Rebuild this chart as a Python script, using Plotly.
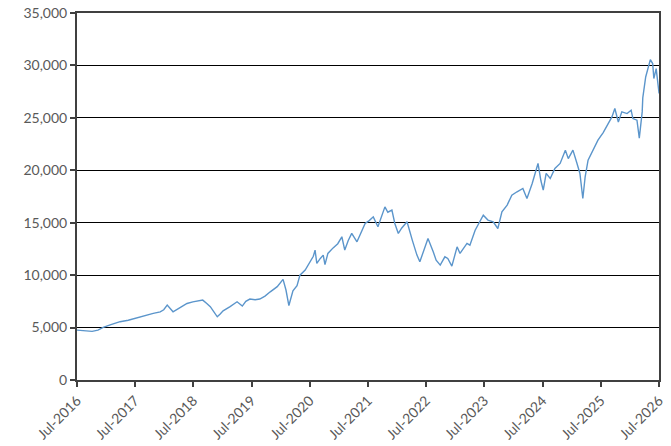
import pandas as pd
import plotly.graph_objects as go

# time as decimal years (Jul-2016 = 2016.5)
years = [2016.50, 2016.64, 2016.76, 2016.86, 2016.95, 2017.07, 2017.24, 2017.38, 2017.53, 2017.67,
         2017.81, 2017.93, 2017.99, 2018.05, 2018.10, 2018.15, 2018.27, 2018.39, 2018.49, 2018.58,
         2018.66, 2018.73, 2018.79, 2018.84, 2018.91, 2018.96, 2019.01, 2019.13, 2019.25, 2019.34,
         2019.40, 2019.47, 2019.56, 2019.64, 2019.73, 2019.82, 2019.94, 2020.04, 2020.09, 2020.14,
         2020.21, 2020.28, 2020.33, 2020.42, 2020.50, 2020.56, 2020.59, 2020.62, 2020.68, 2020.73,
         2020.76, 2020.81, 2020.90, 2020.98, 2021.05, 2021.10, 2021.16, 2021.22, 2021.31, 2021.38,
         2021.45, 2021.52, 2021.59, 2021.67, 2021.74, 2021.79, 2021.84, 2021.91, 2021.96, 2022.02,
         2022.08, 2022.17, 2022.26, 2022.34, 2022.39, 2022.46, 2022.53, 2022.62, 2022.67, 2022.74,
         2022.82, 2022.87, 2022.94, 2023.03, 2023.08, 2023.20, 2023.25, 2023.34, 2023.42, 2023.48,
         2023.56, 2023.65, 2023.73, 2023.80, 2023.89, 2023.97, 2024.06, 2024.16, 2024.23, 2024.32,
         2024.42, 2024.47, 2024.51, 2024.56, 2024.63, 2024.71, 2024.80, 2024.89, 2024.94, 2025.02,
         2025.09, 2025.14, 2025.19, 2025.23, 2025.28, 2025.37, 2025.45, 2025.54, 2025.61, 2025.69,
         2025.74, 2025.80, 2025.86, 2025.95, 2026.02, 2026.05, 2026.12, 2026.16, 2026.21, 2026.22,
         2026.27, 2026.31, 2026.35, 2026.39, 2026.41, 2026.45, 2026.47, 2026.50]

values = [4760, 4700, 4640, 4750, 5020, 5250, 5560, 5700, 5940, 6100,
          6350, 6500, 6700, 7150, 6800, 6510, 6900, 7300, 7450, 7530,
          7620, 7300, 6990, 6600, 6030, 6300, 6600, 7000, 7460, 7050,
          7500, 7720, 7650, 7720, 8000, 8410, 8900, 9600, 8580, 7100,
          8500, 9000, 10000, 10480, 11270, 11800, 12390, 11120, 11590, 11910,
          11000, 12070, 12600, 13000, 13660, 12390, 13300, 13980, 13180, 14000,
          14930, 15200, 15560, 14610, 15800, 16510, 16000, 16200, 14930, 13980,
          14500, 15090, 13340, 11910, 11270, 12300, 13500, 12230, 11430, 10960,
          11750, 11590, 10860, 12700, 12070, 13030, 12860, 14290, 15090, 15720,
          15250, 15090, 14450, 16040, 16680, 17630, 17950, 18270, 17310, 18740,
          20650, 19000, 18110, 19700, 19220, 20170, 20650, 21920, 21120, 21920,
          20650, 19700, 17310, 19380, 20960, 21920, 22870, 23600, 24300, 25090,
          25890, 24610, 25570, 25410, 25730, 24930, 24780, 23070, 25570, 26900,
          28900, 29860, 30560, 30180, 28750, 29700, 28900, 27320]

tick_dates = ["2016-07-01", "2017-07-01", "2018-07-01", "2019-07-01", "2020-07-01", "2021-07-01",
              "2022-07-01", "2023-07-01", "2024-07-01", "2025-07-01", "2026-07-01"]
tick_labels = ["Jul-2016", "Jul-2017", "Jul-2018", "Jul-2019", "Jul-2020", "Jul-2021",
               "Jul-2022", "Jul-2023", "Jul-2024", "Jul-2025", "Jul-2026"]

# decimal year -> date, anchored on 1 Jul 2016
start = pd.Timestamp("2016-07-01")
dates = [start + pd.Timedelta(days=(y - 2016.5) * 365.25) for y in years]

fig = go.Figure()
fig.add_trace(go.Scatter(x=dates, y=values, mode="lines",
                         line=dict(color="#5b95cb", width=1.4), showlegend=False))

fig.update_layout(
    width=671, height=446,
    margin=dict(l=77, r=12, t=13, b=66),
    paper_bgcolor="white", plot_bgcolor="white",
    font=dict(family="Lato", size=14, color="#595959"),
)
fig.update_xaxes(
    range=[tick_dates[0], tick_dates[-1]], automargin=False,
    tickvals=tick_dates, ticktext=tick_labels, tickangle=-45,
    ticklabeloverflow="allow",
    showgrid=False, showline=True, linecolor="#404040", linewidth=2, mirror=True,
    ticks="outside", ticklen=5, tickcolor="#404040", tickwidth=1.5,
)
fig.update_yaxes(
    range=[0, 35000], dtick=5000, tickformat=",", automargin=False,
    ticklabeloverflow="allow",
    showgrid=True, gridcolor="black", gridwidth=1.3,
    showline=True, linecolor="#404040", linewidth=2, mirror=True,
    ticks="outside", ticklen=5, tickcolor="#404040", tickwidth=1.5,
    zeroline=False,
)

# drop the default 8px body margin so the figure fills the window
fig.write_html("out.html", config={"displayModeBar": False},
               post_script="document.body.style.margin='0px';")
